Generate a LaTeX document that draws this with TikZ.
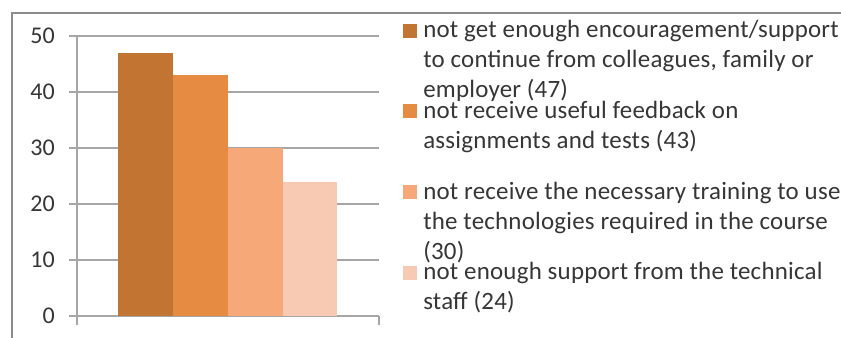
\documentclass[tikz,border=0pt]{standalone}
\usepackage{fontspec}
\setmainfont{Carlito}
\newfontfamily\legfont[LetterSpace=0.9]{Carlito}
\definecolor{barA}{HTML}{C27533}
\definecolor{barB}{HTML}{E68C42}
\definecolor{barC}{HTML}{F6A878}
\definecolor{barD}{HTML}{F8CAB4}
\definecolor{gridc}{HTML}{A6A6A6}
\definecolor{framec}{HTML}{8C8C8C}
\definecolor{txt}{HTML}{363636}
\begin{document}
\begin{tikzpicture}[x=0.75pt,y=-0.75pt,
  grid/.style={draw=gridc,line width=0.9pt},
  ylab/.style={anchor=east,font=\fontsize{18pt}{22.5pt}\selectfont,text=txt,inner sep=0pt},
  legsq/.style={draw=none,minimum size=10.5pt,inner sep=0pt},
  legtxt/.style={anchor=base west,align=left,inner sep=0pt,text=txt,font=\legfont\fontsize{18.7pt}{22.5pt}\selectfont}]
\useasboundingbox (0,0) rectangle (841,338);
\fill[white] (0,0) rectangle (841,338);
% frame
\draw[draw=framec,line width=1.5pt] (12,338) -- (12,13) -- (841,13);
% gridlines
\foreach \v/\yy in {0/316,10/260,20/204,30/148,40/92,50/36}{
  \draw[grid] (69,\yy) -- (379,\yy);
  \node[ylab] (y\v) at (55,\yy) {\v};
}
% axes
\draw[grid] (77,36) -- (77,325);
\draw[grid] (379,316) -- (379,325);
% bars
\fill[barA] (118,316) rectangle (173,52.8);
\fill[barB] (173,316) rectangle (228,75.2);
\fill[barC] (228,316) rectangle (283,148);
\fill[barD] (283,316) rectangle (337,181.6);
% legend
\node[legsq,fill=barA] (s1) at (410,31) {};
\node[legsq,fill=barB] (s2) at (410,111.5) {};
\node[legsq,fill=barC] (s3) at (410,192) {};
\node[legsq,fill=barD] (s4) at (410,273) {};
\node[legtxt] (t1) at (423,98) {not get enough encouragement/support\\to continue from colleagues, family or\\employer (47)};
\node[legtxt] (t2) at (423,149) {not receive useful feedback on\\assignments and tests (43)};
\node[legtxt] (t3) at (423,259) {not receive the necessary training to use\\the technologies required in the course\\(30)};
\node[legtxt] (t4) at (423,309) {not enough support from the technical\\staff (24)};
\end{tikzpicture}
\end{document}
